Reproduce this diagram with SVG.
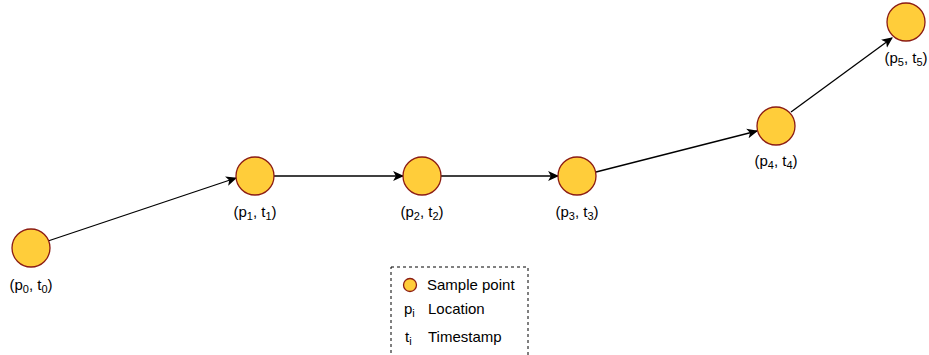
<svg xmlns="http://www.w3.org/2000/svg" width="929" height="355" viewBox="0 0 929 355">
<defs>
<marker id="ah" viewBox="0 0 10 10" refX="9" refY="5" markerWidth="11" markerHeight="11" markerUnits="userSpaceOnUse" orient="auto">
<path d="M0,0.5 L10,5 L0,9.5 L2.5,5 Z" fill="#000"/>
</marker>
<style>
.pt{fill:#FFCD3A;stroke:#8C1C13;stroke-width:1.3}
.lbl{font-family:"Liberation Sans",Arial,sans-serif;font-size:15px;fill:#000}
.c{stroke:#000;stroke-width:1.3;fill:none;marker-end:url(#ah)}
</style>
</defs>
<rect width="929" height="355" fill="#fff"/>
<g id="connectors">
<line class="c" x1="48" y1="241" x2="236" y2="178"/>
<line class="c" x1="274" y1="176" x2="403" y2="176"/>
<line class="c" x1="441" y1="176" x2="558" y2="176"/>
<line class="c" x1="596" y1="172" x2="757" y2="131"/>
<line class="c" x1="791" y1="112" x2="892" y2="38"/>
</g>
<g id="p0"><circle class="pt" cx="31" cy="248" r="19"/><text class="lbl" x="31" y="290" text-anchor="middle">(p<tspan font-size="11" dy="3">0</tspan><tspan dy="-3">, t</tspan><tspan font-size="11" dy="3">0</tspan><tspan dy="-3">)</tspan></text></g>
<g id="p1"><circle class="pt" cx="255" cy="176" r="19"/><text class="lbl" x="255" y="217" text-anchor="middle">(p<tspan font-size="11" dy="3">1</tspan><tspan dy="-3">, t</tspan><tspan font-size="11" dy="3">1</tspan><tspan dy="-3">)</tspan></text></g>
<g id="p2"><circle class="pt" cx="422" cy="176" r="19"/><text class="lbl" x="422" y="217" text-anchor="middle">(p<tspan font-size="11" dy="3">2</tspan><tspan dy="-3">, t</tspan><tspan font-size="11" dy="3">2</tspan><tspan dy="-3">)</tspan></text></g>
<g id="p3"><circle class="pt" cx="577" cy="176" r="19"/><text class="lbl" x="577" y="217" text-anchor="middle">(p<tspan font-size="11" dy="3">3</tspan><tspan dy="-3">, t</tspan><tspan font-size="11" dy="3">3</tspan><tspan dy="-3">)</tspan></text></g>
<g id="p4"><circle class="pt" cx="776" cy="126" r="19"/><text class="lbl" x="776" y="166" text-anchor="middle">(p<tspan font-size="11" dy="3">4</tspan><tspan dy="-3">, t</tspan><tspan font-size="11" dy="3">4</tspan><tspan dy="-3">)</tspan></text></g>
<g id="p5"><circle class="pt" cx="906" cy="22" r="19"/><text class="lbl" x="906" y="63" text-anchor="middle">(p<tspan font-size="11" dy="3">5</tspan><tspan dy="-3">, t</tspan><tspan font-size="11" dy="3">5</tspan><tspan dy="-3">)</tspan></text></g>
<g id="legend">
<rect x="391" y="267" width="137" height="92" fill="none" stroke="#000" stroke-width="1" stroke-dasharray="3,3"/>
<circle class="pt" cx="410" cy="285" r="6.5"/>
<text class="lbl" x="427" y="290">Sample point</text>
<text class="lbl" x="404" y="314">p<tspan font-size="11" dy="3">i</tspan></text>
<text class="lbl" x="428" y="314">Location</text>
<text class="lbl" x="405" y="342">t<tspan font-size="11" dy="3">i</tspan></text>
<text class="lbl" x="428" y="342">Timestamp</text>
</g>
</svg>
